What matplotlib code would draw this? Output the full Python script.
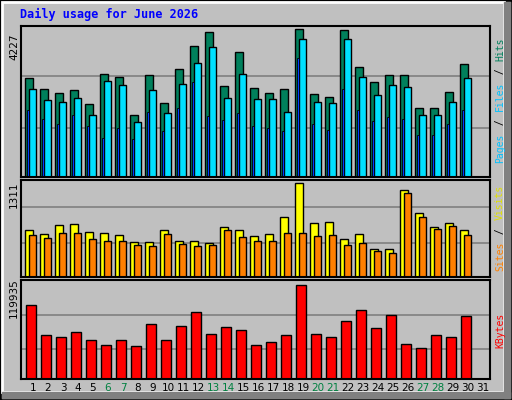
import matplotlib
matplotlib.use("Agg")
import matplotlib.pyplot as plt
from matplotlib.patches import Rectangle

days = list(range(1, 32))
hits = [2818, 2502, 2387, 2473, 2071, 2933, 2847, 1783, 2905, 2099, 3077, 3739, 4141, 2588, 3566,
        2531, 2387, 2502, 4227, 2358, 2272, 4199, 3135, 2703, 2905, 2905, 1984, 1984, 2416, 3221]
files = [2502, 2186, 2128, 2243, 1783, 2732, 2617, 1582, 2473, 1841, 2646, 3250, 3710, 2243, 2933,
         2214, 2214, 1869, 3940, 2128, 2099, 3940, 2847, 2330, 2617, 2560, 1783, 1783, 2128, 2818]
pages = [1927, 1668, 1524, 1783, 1467, 1122, 1409, 1093, 1869, 1323, 1956, 2703, 1754, 1639, 1841,
         1450, 1400, 1300, 3400, 1500, 1350, 2500, 1900, 1600, 1700, 1650, 1200, 1200, 1500, 1900]
visits = [656, 599, 727, 741, 627, 613, 584, 485, 485, 656, 499, 499, 470, 698, 656,
          570, 599, 841, 1311, 755, 770, 527, 599, 385, 385, 1211, 884, 698, 755, 656]
sites = [584, 542, 613, 613, 527, 499, 499, 442, 428, 599, 456, 428, 442, 656, 556,
         499, 499, 613, 613, 570, 584, 442, 470, 356, 328, 1169, 841, 670, 713, 584]
kbytes = [93578, 55356, 54038, 59310, 50084, 43494, 50084, 42176, 69854, 50084, 67218, 85670, 56674,
          65900, 61946, 43494, 47448, 55356, 119935, 56674, 54038, 73808, 88306, 64582, 81716,
          44812, 39540, 55356, 54038, 80398]
weekend = [6, 7, 13, 14, 20, 21, 27, 28]

W, H = 512, 400
fig = plt.figure(figsize=(W / 100, H / 100), dpi=100)
fig.patch.set_facecolor('#C0C0C0')
# outer frame
fig.patches.append(Rectangle((0, 0), 1, 1, transform=fig.transFigure, fill=False,
                             edgecolor='black', lw=2))
fig.patches.append(Rectangle((2 / W, 8 / H), (W - 10) / W, (H - 10) / H, transform=fig.transFigure,
                             fill=False, edgecolor='white', lw=2))
fig.patches.append(Rectangle((2 / W, 2 / H), (W - 4) / W, 6 / H, transform=fig.transFigure, color='#808080'))
fig.patches.append(Rectangle((1 - 8 / W, 2 / H), 6 / W, (H - 4) / H, transform=fig.transFigure, color='#808080'))

def panel(top, bottom):
    ax = fig.add_axes([21 / W, (H - bottom) / H, 469 / W, (bottom - top) / H])
    ax.set_facecolor('#C0C0C0')
    ax.set_xlim(0.2, 0.2 + 469 / 15)
    ax.set_xticks([])
    ax.set_yticks([])
    for s in ax.spines.values():
        s.set_color('black')
        s.set_linewidth(1.5)
    return ax

x = days[:len(hits)]
ax1 = panel(26, 177)
ax1.set_ylim(0, 4227 * 1.02)
for g in [1409, 2876]:
    ax1.axhline(g, color='#808080', lw=1.2, zorder=0)
ax1.bar([d - 0.53 for d in x], hits, width=0.5, align='edge', color='#00805C', edgecolor='black', lw=1)
ax1.bar([d - 0.27 for d in x], files, width=0.5, align='edge', color='#00E0FF', edgecolor='black', lw=1)
ax1.bar([d - 0.4 for d in x], pages, width=0.13, align='edge', color='#0040FF', edgecolor='black', lw=0.6)

ax2 = panel(180, 277)
ax2.set_ylim(0, 1311 * 1.03)
for g in [470, 970]:
    ax2.axhline(g, color='#808080', lw=1.2, zorder=0)
ax2.bar([d - 0.53 for d in x], visits, width=0.5, align='edge', color='#FFFF00', edgecolor='black', lw=1)
ax2.bar([d - 0.27 for d in x], sites, width=0.5, align='edge', color='#FF8000', edgecolor='black', lw=1)

ax3 = panel(280, 379)
ax3.set_ylim(0, 119935 * 1.05)
for g in [38000, 82000]:
    ax3.axhline(g, color='#808080', lw=1.2, zorder=0)
ax3.bar([d - 0.45 for d in x], kbytes, width=0.65, align='edge', color='#FF0000', edgecolor='black', lw=1)

for d in days:
    fig.text((21 + (d - 0.2) * 15) / W, 1 - 388 / H, str(d), ha='center', va='center',
             fontsize=7.5, family='DejaVu Sans',
             color='#008040' if d in weekend else 'black')

fig.text(20 / W, 1 - 14 / H, 'Daily usage for June 2026', fontsize=8.5, color='#0000FF',
         weight='bold', family='DejaVu Sans Mono', va='center')
for txt, yc in [('4227', 47), ('1311', 195), ('119935', 298)]:
    fig.text(14 / W, 1 - yc / H, txt, rotation=90, ha='center', va='center', fontsize=7.5)

def side(parts, yc):
    # vertical labels on the right edge, reading bottom to top
    total = sum(len(p) for p, c in parts)
    y = yc + total * 6.4 / 2
    for p, c in parts:
        fig.text(500 / W, 1 - (y - len(p) * 6.4 / 2) / H, p, rotation=90, ha='center', va='center',
                 fontsize=7, color=c, family='DejaVu Sans Mono')
        y -= len(p) * 6.4

side([('Pages', '#00C0FF'), (' / ', 'black'), ('Files', '#00C0FF'), (' / ', 'black'), ('Hits', '#00805C')], 100)
side([('Sites', '#FF8000'), (' / ', 'black'), ('Visits', '#E0E000')], 228)
side([('KBytes', '#FF0000')], 330)

fig.savefig('out.png', dpi=100, facecolor=fig.get_facecolor())
